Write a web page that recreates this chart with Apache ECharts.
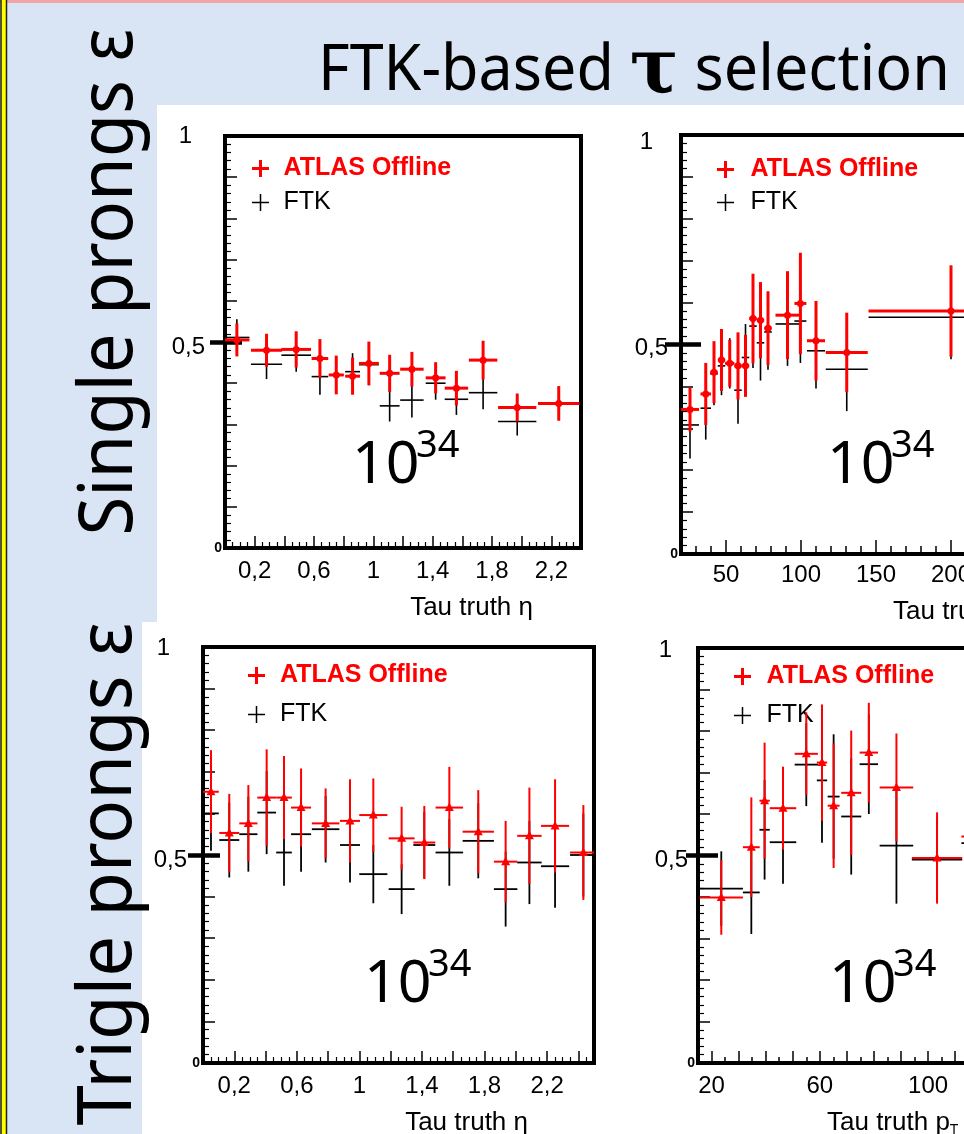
<!DOCTYPE html>
<html>
<head>
<meta charset="utf-8">
<script src="https://cdn.jsdelivr.net/npm/echarts@6/dist/echarts.min.js"></script>
<style>
html, body { margin: 0; padding: 0; background: #d9e5f4; overflow: hidden; }
#main { width: 1100px; height: 1134px; }
</style>
</head>
<body>
<div id="main"></div>
<script>
// ---- tick labels ----
var effLabels = [0, 0.5, 1];
var etaLabels = [0.2, 0.6, 1, 1.4, 1.8, 2.2];
var ptLabelsB = [50, 100, 150, 200, 250];
var ptLabelsD = [20, 60, 100, 140];

// ---- single prong, vs eta ----
var etaA    = [0.08, 0.28, 0.48, 0.64, 0.75, 0.86, 0.97, 1.11, 1.26, 1.42, 1.56, 1.74, 1.97, 2.25];
var etaAErr = [0.085, 0.105, 0.10, 0.056, 0.05, 0.05, 0.067, 0.067, 0.079, 0.067, 0.079, 0.096, 0.129, 0.14];
var offA    = [0.505, 0.48, 0.482, 0.46, 0.42, 0.417, 0.448, 0.424, 0.434, 0.413, 0.388, 0.456, 0.341, 0.351];
var offAErr = [0.040, 0.040, 0.044, 0.047, 0.047, 0.045, 0.053, 0.045, 0.042, 0.038, 0.042, 0.047, 0.034, 0.042];
var ftkA    = [0.511, 0.446, 0.468, 0.416, 0.42, 0.428, 0.445, 0.345, 0.359, 0.40, 0.361, 0.377, 0.307, 0.35];
var ftkAErr = [0.044, 0.036, 0.04, 0.044, 0.045, 0.045, 0.05, 0.038, 0.042, 0.04, 0.038, 0.04, 0.034, 0.04];

// ---- single prong, vs pT ----
var ptB    = [26, 36.5, 42, 47, 52.5, 58, 63, 68, 73, 78, 91, 99.6, 110, 130.5, 200];
var ptBErr = [6, 3.5, 2.5, 2.5, 3, 2.5, 2.5, 2.5, 2.5, 2.5, 8, 4, 6, 14, 55];
var offB    = [0.345, 0.382, 0.434, 0.463, 0.455, 0.449, 0.449, 0.562, 0.558, 0.539, 0.570, 0.598, 0.509, 0.481, 0.580];
var offBErr = [0.052, 0.074, 0.074, 0.074, 0.056, 0.08, 0.074, 0.107, 0.091, 0.088, 0.105, 0.121, 0.095, 0.095, 0.109];
var ftkB    = [0.308, 0.348, 0.43, 0.449, 0.455, 0.391, 0.469, 0.544, 0.504, 0.53, 0.549, 0.556, 0.485, 0.441, 0.565];
var ftkBErr = [0.08, 0.075, 0.075, 0.07, 0.06, 0.08, 0.08, 0.1, 0.09, 0.09, 0.1, 0.1, 0.09, 0.1, 0.1];

// ---- three prongs, vs eta ----
var etaC    = [0.051, 0.168, 0.29, 0.407, 0.518, 0.627, 0.784, 0.94, 1.089, 1.27, 1.415, 1.575, 1.76, 1.935, 2.087, 2.251, 2.432];
var etaCErr = [0.05, 0.064, 0.058, 0.06, 0.05, 0.064, 0.088, 0.064, 0.09, 0.083, 0.07, 0.088, 0.1, 0.075, 0.078, 0.09, 0.085];
var offC    = [0.652, 0.553, 0.576, 0.638, 0.638, 0.614, 0.576, 0.582, 0.596, 0.540, 0.530, 0.614, 0.556, 0.484, 0.546, 0.570, 0.506];
var offCErr = [0.1, 0.094, 0.092, 0.116, 0.1, 0.094, 0.084, 0.1, 0.088, 0.076, 0.088, 0.098, 0.1, 0.098, 0.116, 0.112, 0.114];
var ftkC    = [0.6, 0.536, 0.550, 0.602, 0.506, 0.550, 0.562, 0.524, 0.454, 0.418, 0.524, 0.506, 0.534, 0.418, 0.482, 0.473, 0.5];
var ftkCErr = [0.09, 0.09, 0.09, 0.1, 0.08, 0.09, 0.08, 0.09, 0.07, 0.06, 0.08, 0.08, 0.09, 0.09, 0.1, 0.1, 0.1];

// ---- three prongs, vs pT ----
var ptD    = [23.6, 34.7, 39.6, 46.4, 55.0, 60.8, 65.1, 71.6, 78.1, 88.3, 103.3, 125];
var ptDErr = [8, 3.1, 1.9, 4.9, 4.3, 1.9, 2.2, 3.7, 3.4, 6.2, 9.3, 12.7];
var offD    = [0.399, 0.520, 0.632, 0.614, 0.745, 0.724, 0.620, 0.651, 0.748, 0.664, 0.494, 0.546];
var offDErr = [0.09, 0.12, 0.14, 0.1, 0.1, 0.14, 0.15, 0.15, 0.12, 0.13, 0.11, 0.1];
var ftkD    = [0.42, 0.411, 0.562, 0.532, 0.719, 0.681, 0.642, 0.594, 0.72, 0.524, 0.49, 0.53];
var ftkDErr = [0.09, 0.1, 0.12, 0.1, 0.1, 0.15, 0.15, 0.14, 0.12, 0.14, 0.1, 0.1];


var chart = echarts.init(document.getElementById('main'));
var FONT = 'Liberation Sans';
var plusRed = 'path://M7,0h3v7h7v3h-7v7h-3v-7h-7v-3h7z';
var plusBlack = 'path://M7.75,0h1.5v7.75h7.75v1.5h-7.75v7.75h-1.5v-7.75h-7.75v-1.5h7.75z';

function fmt(v) {
	return String(v).replace('.', ',');
}

function crossData(xs, xe, ys, ye) {
	return xs.map(function (x, i) {
		return [x, ys[i], xe[i], ye[i]];
	});
}

function range(a, b, step) {
	var out = [];
	for (var v = a; v <= b; v += step) out.push(v);
	return out;
}

/**
 * error cross: horizontal bin bar + vertical error bar (+ marker)
 */
function crossRenderer(lw, marker) {
	return function (params, api) {
		var x = api.value(0), y = api.value(1), ex = api.value(2), ey = api.value(3);
		var c = api.coord([x, y]);
		var l = api.coord([x - ex, y]), r = api.coord([x + ex, y]);
		var t = api.coord([x, y + ey]), b = api.coord([x, y - ey]);
		var color = api.visual('color');
		var kids = [
			{ type: 'line', shape: { x1: l[0], y1: c[1], x2: r[0], y2: c[1] }, style: { stroke: color, lineWidth: lw } },
			{ type: 'line', shape: { x1: c[0], y1: t[1], x2: c[0], y2: b[1] }, style: { stroke: color, lineWidth: lw } }
		];
		if (marker === 'dot') {
			kids.push({ type: 'circle', shape: { cx: c[0], cy: c[1], r: 3.5 }, style: { fill: color } });
		} else if (marker === 'tri') {
			kids.push({ type: 'polygon', shape: { points: [[c[0], c[1] - 5], [c[0] - 4.5, c[1] + 3.5], [c[0] + 4.5, c[1] + 3.5]] }, style: { fill: color } });
		}
		return { type: 'group', children: kids };
	};
}

var grids = [], xAxes = [], yAxes = [], series = [], legends = [];

function addPanel(o) {
	var gi = grids.length;
	grids.push({
		left: o.left, top: o.top, width: o.width, height: o.height, containLabel: false, outerBoundsMode: 'none',
		show: true, borderColor: '#000', borderWidth: 4, backgroundColor: 'rgba(0,0,0,0)'
	});
	var xi = xAxes.length, yi = yAxes.length;
	xAxes.push({
		gridIndex: gi, type: 'value', position: 'bottom', min: o.xMin, max: o.xMax, interval: o.xInterval,
		axisLine: { show: false, onZero: false }, splitLine: { show: false },
		axisTick: { inside: true, length: o.xTickLen, customValues: o.xTicks, lineStyle: { color: '#000', width: 1.5 } },
		minorTick: { show: !!o.xMinor, splitNumber: o.xMinor || 5, length: 6, lineStyle: { color: '#000', width: 1.2 } },
		axisLabel: { customValues: o.xLabels, margin: o.xLabelMargin, color: '#000', fontSize: 24, fontFamily: FONT, formatter: fmt },
		name: o.xName, nameLocation: o.nameLoc, nameGap: o.nameGap,
		nameTextStyle: {
			fontSize: 26, fontFamily: FONT, color: '#000', align: o.nameAlign, verticalAlign: 'top', padding: [o.namePad, 0, 0, 0],
			rich: { t: { fontSize: 14, fontFamily: FONT, color: '#000', padding: [14, 0, 0, 0] } }
		}
	});
	xAxes.push({
		gridIndex: gi, type: 'value', position: 'bottom', min: o.xMin, max: o.xMax, interval: o.xInterval,
		axisLine: { show: false, onZero: false }, splitLine: { show: false }, axisLabel: { show: false },
		axisTick: { show: !!o.xTicks2, inside: true, length: o.xTick2Len, customValues: o.xTicks2, lineStyle: { color: '#000', width: 1.5 } }
	});
	var p = o.yPad;
	yAxes.push({
		gridIndex: gi, type: 'value', position: 'left', min: 0, max: 1, interval: 0.1,
		axisLine: { show: false, onZero: false }, splitLine: { show: false },
		axisTick: { inside: true, length: 12, lineStyle: { color: '#000', width: 1.5 } },
		minorTick: { show: true, splitNumber: 5, length: 6, lineStyle: { color: '#000', width: 1.2 } },
		axisLabel: {
			customValues: effLabels, margin: 3,
			formatter: function (v) {
				return v === 0 ? '{z|0}' : (v === 1 ? '{o|1}' : '{h|0,5}');
			},
			rich: {
				z: { fontSize: 14, fontWeight: 'bold', fontFamily: FONT, color: '#000' },
				o: { fontSize: 24, fontFamily: FONT, color: '#000', padding: [p[0], p[1], 0, 0] },
				h: { fontSize: 24, fontFamily: FONT, color: '#000', padding: [p[2], p[3], 0, 0] }
			}
		}
	});
	// thick 0,5 bar across the frame
	yAxes.push({
		gridIndex: gi, type: 'value', position: 'left', min: 0, max: 1,
		axisLine: { show: false, onZero: false }, splitLine: { show: false }, axisLabel: { show: false },
		axisTick: { customValues: [0.5], inside: false, length: o.halfOut, lineStyle: { color: '#000', width: 4.5 } }
	});
	yAxes.push({
		gridIndex: gi, type: 'value', position: 'left', min: 0, max: 1,
		axisLine: { show: false, onZero: false }, splitLine: { show: false }, axisLabel: { show: false },
		axisTick: { customValues: [0.5], inside: true, length: o.halfIn, lineStyle: { color: '#000', width: 4.5 } }
	});

	series.push({
		type: 'custom', name: 'FTK', xAxisIndex: xi, yAxisIndex: yi, clip: true, silent: true, z: 3,
		itemStyle: { color: '#000' }, renderItem: crossRenderer(o.ftkW, null),
		encode: { x: 0, y: 1 }, data: crossData(o.xs, o.xe, o.ftk, o.ftkErr)
	});
	series.push({
		type: 'custom', name: 'ATLAS Offline', xAxisIndex: xi, yAxisIndex: yi, clip: true, silent: true, z: 4,
		itemStyle: { color: '#ff0000' }, renderItem: crossRenderer(o.offW, o.marker),
		encode: { x: 0, y: 1 }, data: crossData(o.xs, o.xe, o.off, o.offErr)
	});

	legends.push({
		left: o.legLeft, top: o.legTop, orient: 'vertical', padding: 0,
		itemWidth: o.legIconW, itemHeight: 17, itemGap: o.legGap, selectedMode: false,
		textStyle: { fontSize: 25, fontFamily: FONT, color: '#000' },
		data: [
			{ name: 'ATLAS Offline', icon: plusRed, textStyle: { color: '#ff0000', fontWeight: 'bold' } },
			{ name: 'FTK', icon: plusBlack, textStyle: { color: '#000' } }
		]
	});
}

// Single prongs vs eta
addPanel({
	left: 225, top: 136, width: 356, height: 412,
	xMin: 0, xMax: 2.4, xInterval: 0.2, xTickLen: 12, xMinor: 4, xLabels: etaLabels, xLabelMargin: 11,
	xName: 'Tau truth η', nameLoc: 'end', nameGap: -48, nameAlign: 'right', namePad: 47,
	yPad: [0, 30, 10, 17], halfOut: 15, halfIn: 17,
	xs: etaA, xe: etaAErr, off: offA, offErr: offAErr, ftk: ftkA, ftkErr: ftkAErr,
	offW: 3, ftkW: 1.6, marker: 'dot',
	legLeft: 252, legTop: 156, legIconW: 36, legGap: 9
});

// Single prongs vs pT
addPanel({
	left: 681, top: 135, width: 345, height: 419,
	xMin: 20, xMax: 250, xInterval: 10, xTickLen: 8, xLabels: ptLabelsB, xLabelMargin: 9,
	xTicks2: ptLabelsB, xTick2Len: 14,
	xName: 'Tau truth p{t|T}', nameLoc: 'start', nameGap: -212, nameAlign: 'left', namePad: 44,
	yPad: [14, 25, 8, 10], halfOut: 16, halfIn: 20,
	xs: ptB, xe: ptBErr, off: offB, offErr: offBErr, ftk: ftkB, ftkErr: ftkBErr,
	offW: 3, ftkW: 1.6, marker: 'dot',
	legLeft: 717, legTop: 157, legIconW: 40, legGap: 8
});

// Three prongs vs eta
addPanel({
	left: 203, top: 647, width: 391, height: 416,
	xMin: 0, xMax: 2.5, xInterval: 0.2, xTickLen: 12, xMinor: 4, xLabels: etaLabels, xLabelMargin: 11,
	xName: 'Tau truth η', nameLoc: 'end', nameGap: -66, nameAlign: 'right', namePad: 47,
	yPad: [2, 30, 10, 13], halfOut: 15, halfIn: 17,
	xs: etaC, xe: etaCErr, off: offC, offErr: offCErr, ftk: ftkC, ftkErr: ftkCErr,
	offW: 2, ftkW: 1.8, marker: 'tri',
	legLeft: 248, legTop: 663, legIconW: 37, legGap: 14
});

// Three prongs vs pT
addPanel({
	left: 698, top: 648, width: 379, height: 415,
	xMin: 15, xMax: 155, xInterval: 5, xTickLen: 12, xTicks: range(20, 150, 10), xLabels: ptLabelsD, xLabelMargin: 11,
	xTicks2: range(25, 155, 10), xTick2Len: 6,
	xName: 'Tau truth p{t|T}', nameLoc: 'start', nameGap: -129, nameAlign: 'left', namePad: 46,
	yPad: [4, 23, 10, 7], halfOut: 12, halfIn: 20,
	xs: ptD, xe: ptDErr, off: offD, offErr: offDErr, ftk: ftkD, ftkErr: ftkDErr,
	offW: 2, ftkW: 1.8, marker: 'tri',
	legLeft: 734, legTop: 664, legIconW: 38, legGap: 14
});


// text fitting for the slide labels
function measure(str, font) {
	var ctx = measure.ctx || (measure.ctx = document.createElement('canvas').getContext('2d'));
	ctx.font = font;
	return ctx.measureText(str).width;
}
var sideFont = '74px "Noto Sans"';
var titleFont = '64px "Noto Sans"';
var tauFont = 'bold 76px "DejaVu Serif"';
var titleScale = 632 / (measure('FTK-based ', titleFont) + measure('τ', tauFont) + measure(' selection', titleFont));

function powerText(x, y) {
	return [
		{ type: 'text', x: x, y: y, z: 10, style: { text: '10', font: '59px "Noto Sans"', fill: '#000', textVerticalAlign: 'middle' } },
		{ type: 'text', x: x + 64, y: y - 20, z: 10, style: { text: '34', font: '38px "Noto Sans"', fill: '#000', textVerticalAlign: 'middle' } }
	];
}

var graphics = [
	{ type: 'rect', z: -10, shape: { x: 157, y: 105, width: 950, height: 517 }, style: { fill: '#fff' } },
	{ type: 'rect', z: -10, shape: { x: 142, y: 622, width: 960, height: 512 }, style: { fill: '#fff' } },
	{ type: 'rect', z: -10, shape: { x: 0, y: 0, width: 1100, height: 3 }, style: { fill: '#f3a5a5' } },
	{ type: 'rect', z: -10, shape: { x: 1, y: -2, width: 5.5, height: 1140 }, style: { fill: '#ffff00', stroke: '#222', lineWidth: 1.5 } },
	{
		type: 'text', x: 318, y: 72, z: 10, scaleX: titleScale,
		style: {
			text: '{a|FTK-based }{t|τ}{a| selection}', fill: '#000', textVerticalAlign: 'middle',
			rich: {
				a: { font: titleFont, fill: '#000' },
				t: { font: tauFont, fill: '#000' }
			}
		}
	},
	{
		type: 'text', x: 111, y: 282, z: 10, rotation: Math.PI / 2,
		scaleX: 507 / measure('Single prongs ε', sideFont),
		style: { text: 'Single prongs ε', font: sideFont, fill: '#000', textAlign: 'center', textVerticalAlign: 'middle' }
	},
	{
		type: 'text', x: 110, y: 874, z: 10, rotation: Math.PI / 2,
		scaleX: 503 / measure('Trigle prongs ε', sideFont),
		style: { text: 'Trigle prongs ε', font: sideFont, fill: '#000', textAlign: 'center', textVerticalAlign: 'middle' }
	}
].concat(powerText(352, 466), powerText(827, 466), powerText(364, 985), powerText(829, 985));

chart.setOption({
	backgroundColor: '#d9e5f4',
	animation: false,
	grid: grids,
	xAxis: xAxes,
	yAxis: yAxes,
	legend: legends,
	series: series,
	graphic: graphics
});
</script>
</body>
</html>
